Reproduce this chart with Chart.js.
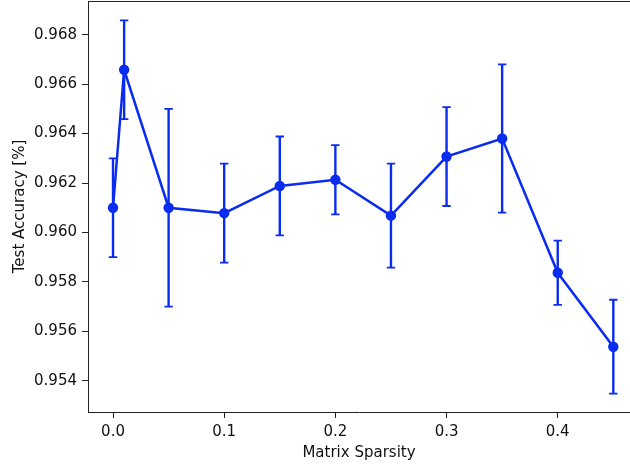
<!DOCTYPE html>
<html><head><meta charset="utf-8">
<script src="https://cdn.jsdelivr.net/npm/chart.js@4/dist/chart.umd.min.js"></script>
<style>html,body{margin:0;padding:0;background:#fff}#wrap{width:630px;height:466px}</style>
</head><body><div id="wrap"><canvas id="c" width="630" height="466"></canvas></div>
<script>
const sparsity = [0.0, 0.01, 0.05, 0.1, 0.15, 0.2, 0.25, 0.3, 0.35, 0.4, 0.45];
const accuracy = [0.9610, 0.96658, 0.9610, 0.96078, 0.96188, 0.96213, 0.96068, 0.96307, 0.9638, 0.95837, 0.95538];
const accuracyErr = [0.0020, 0.0020, 0.0040, 0.0020, 0.0020, 0.0014, 0.0021, 0.0020, 0.0030, 0.0013, 0.0019];
const xTicks = [0.0, 0.1, 0.2, 0.3, 0.4];
const yTicks = [0.954, 0.956, 0.958, 0.960, 0.962, 0.964, 0.966, 0.968];

const BLUE = '#0a2cf0';
const FONT = {family: 'DejaVu Sans', size: 15};

const errorBars = {
  id: 'errorBars',
  beforeDatasetsDraw(chart) {
    const {ctx, scales: {x, y}} = chart;
    ctx.save();
    ctx.strokeStyle = BLUE;
    const cap = 4.2;
    sparsity.forEach((sx, i) => {
      const px = x.getPixelForValue(sx);
      const top = y.getPixelForValue(accuracy[i] + accuracyErr[i]);
      const bot = y.getPixelForValue(accuracy[i] - accuracyErr[i]);
      ctx.lineWidth = 2.4;
      ctx.beginPath();
      ctx.moveTo(px, top); ctx.lineTo(px, bot);
      ctx.stroke();
      ctx.lineWidth = 1.8;
      ctx.beginPath();
      ctx.moveTo(px - cap, top); ctx.lineTo(px + cap, top);
      ctx.moveTo(px - cap, bot); ctx.lineTo(px + cap, bot);
      ctx.stroke();
    });
    ctx.restore();
  },
  afterDraw(chart) {
    const {ctx, chartArea} = chart;
    ctx.save();
    ctx.strokeStyle = '#222';
    ctx.lineWidth = 1;
    ctx.beginPath();
    ctx.moveTo(chartArea.left, Math.round(chartArea.top) + 0.5);
    ctx.lineTo(chartArea.right, Math.round(chartArea.top) + 0.5);
    ctx.stroke();
    ctx.restore();
  }
};

new Chart(document.getElementById('c'), {
  type: 'line',
  data: {
    datasets: [{
      data: sparsity.map((s, i) => ({x: s, y: accuracy[i]})),
      borderColor: BLUE,
      backgroundColor: BLUE,
      borderWidth: 2.5,
      pointRadius: 5.2,
      pointHoverRadius: 5.2,
      pointBackgroundColor: BLUE,
      pointBorderWidth: 0,
      tension: 0,
      fill: false
    }]
  },
  options: {
    responsive: false,
    devicePixelRatio: 1,
    animation: false,
    events: [],
    layout: {autoPadding: false, padding: {top: 1, left: 0, right: 0, bottom: 0}},
    plugins: {legend: {display: false}, tooltip: {enabled: false}},
    scales: {
      x: {
        type: 'linear',
        min: -0.0225,
        max: 0.465,
        afterBuildTicks: s => { s.ticks = xTicks.map(v => ({value: v})); },
        afterFit: s => { s.height = 54; s.paddingLeft = 0; s.paddingRight = 0; },
        ticks: {callback: v => v.toFixed(1), font: FONT, color: '#111', padding: 5, maxRotation: 0, autoSkip: false},
        grid: {drawOnChartArea: false, tickLength: 6, tickColor: '#222', tickWidth: 1},
        border: {color: '#222', width: 1},
        title: {display: true, text: 'Matrix Sparsity', font: FONT, color: '#111', padding: {top: 0, bottom: 4}}
      },
      y: {
        type: 'linear',
        min: 0.95274,
        max: 0.96936,
        afterBuildTicks: s => { s.ticks = yTicks.map(v => ({value: v})); },
        afterFit: s => { s.width = 88; s.paddingTop = 0; s.paddingBottom = 0; },
        ticks: {callback: v => v.toFixed(3), font: FONT, color: '#111', padding: 5, autoSkip: false},
        grid: {drawOnChartArea: false, tickLength: 6, tickColor: '#222', tickWidth: 1},
        border: {color: '#222', width: 1},
        title: {display: true, text: 'Test Accuracy [%]', font: FONT, color: '#111', padding: {top: 11, bottom: 0}}
      }
    }
  },
  plugins: [errorBars]
});
</script>
</body></html>
